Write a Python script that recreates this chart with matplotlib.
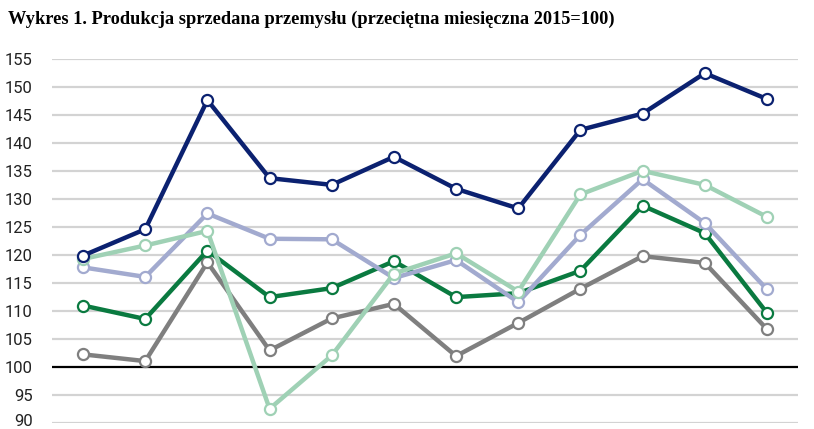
"""
Wykres 1. Produkcja sprzedana przemysłu - recreation.
"""

import matplotlib.pyplot as plt
from matplotlib.transforms import ScaledTranslation

months = list(range(12))
navy = [119.9, 124.6, 147.6, 133.7, 132.5, 137.5, 131.8, 128.3, 142.3, 145.2, 152.4, 147.8]
mint = [119.3, 121.7, 124.3, 92.6, 102.1, 116.7, 120.3, 113.5, 130.8, 135.0, 132.5, 126.8]
lavender = [117.8, 116.1, 127.4, 122.9, 122.8, 115.9, 119.1, 111.6, 123.6, 133.5, 125.7, 113.9]
green = [111.0, 108.6, 120.8, 112.5, 114.1, 118.9, 112.5, 113.2, 117.2, 128.8, 123.9, 109.7]
grey = [102.3, 101.1, 118.7, 103.0, 108.7, 111.3, 102.0, 107.9, 114.0, 119.8, 118.6, 106.8]
yticks = list(range(90, 160, 5))
title = "Wykres 1. Produkcja sprzedana przemysłu (przeciętna miesięczna 2015=100)"


def main():
    fig = plt.figure(figsize=(8.14, 4.29), dpi=100)
    ax = fig.add_axes([52 / 814, (429 - 423.4) / 429, (798 - 52) / 814, (423.4 - 58.6) / 429])

    for y in yticks:
        if y == 100:
            continue
        ax.axhline(y, color="#d3d3d3", linewidth=1.6, zorder=0)
    ax.axhline(100, color="black", linewidth=1.6, zorder=1)

    series = [
        (grey, "#7f7f7f"),
        (green, "#0a7a40"),
        (lavender, "#a2aacf"),
        (mint, "#9fd1b5"),
        (navy, "#0b2170"),
    ]
    for i, (vals, col) in enumerate(series):
        ax.plot(months, vals, color=col, linewidth=3.2, marker="o", markersize=8,
                markerfacecolor="white", markeredgecolor=col, markeredgewidth=1.6,
                clip_on=False, zorder=2 + i)

    ax.set_xlim(-0.5, 11.5)
    ax.set_ylim(90, 155)
    ax.set_yticks(yticks)
    ax.set_yticklabels([str(v) for v in yticks], fontfamily="Roboto", fontsize=12,
                       color="#222222")
    ax.tick_params(axis="y", length=0, pad=14)
    # nudge the bottom label up so it stays inside the canvas
    lab = ax.get_yticklabels()[0]
    lab.set_transform(lab.get_transform() + ScaledTranslation(0, 2.5 / 72, fig.dpi_scale_trans))
    ax.set_xticks([])
    for s in ax.spines.values():
        s.set_visible(False)

    fig.text(8 / 814, 1 - 19 / 429, title, fontfamily="Liberation Serif", fontweight="bold",
             fontsize=13.2, va="center", ha="left", color="black")

    fig.savefig("out.png", dpi=100)


if __name__ == "__main__":
    main()
